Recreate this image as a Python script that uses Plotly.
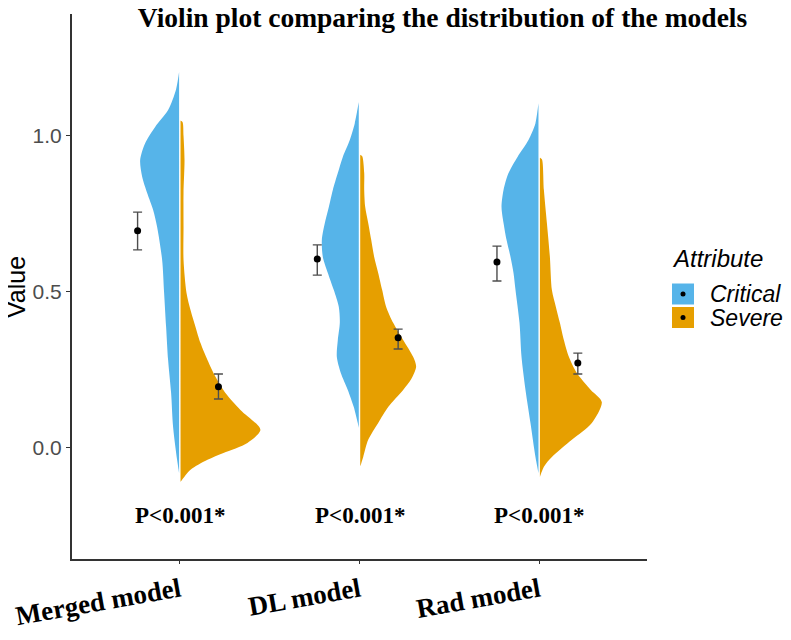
import plotly.graph_objects as go

# ---------------- data ----------------
models = ["Merged model", "DL model", "Rad model"]
attributes = ["Critical", "Severe"]
colors = {"Critical": "#56B4E9", "Severe": "#E69F00"}

# density profiles (value grid, relative half-width)
merged_crit_y = [-0.08, -0.038, 0.067, 0.176, 0.282, 0.388, 0.497, 0.603, 0.708, 0.763, 0.817, 0.869, 0.923, 0.977, 1.029, 1.083, 1.15, 1.205]
merged_crit_w = [0, 2, 6, 8, 11, 13, 15, 17, 22, 26, 32, 37, 39, 34, 24, 11, 3, 0]
merged_sev_y = [-0.109, -0.07, -0.038, -0.016, 0.016, 0.058, 0.122, 0.176, 0.228, 0.282, 0.336, 0.388, 0.442, 0.497, 0.603, 0.708, 0.817, 0.923, 1.0, 1.045, 1.05]
merged_sev_w = [0, 10, 27, 43, 67, 80, 60, 45, 35, 27, 20, 15, 10, 6, 3, 3, 3, 4, 3, 2, 0]

dl_crit_y = [0.065, 0.080, 0.131, 0.186, 0.240, 0.292, 0.346, 0.401, 0.452, 0.506, 0.561, 0.612, 0.667, 0.721, 0.772, 0.827, 0.881, 0.933, 0.987, 1.041, 1.109]
dl_crit_w = [0, 1, 5, 11, 18, 22, 21, 19, 20, 25, 31, 36, 37, 34, 30, 26, 21, 16, 9, 4, 0]
dl_sev_y = [-0.06, -0.029, 0.026, 0.080, 0.131, 0.186, 0.22, 0.26, 0.292, 0.346, 0.401, 0.452, 0.506, 0.561, 0.612, 0.667, 0.721, 0.772, 0.827, 0.881, 0.935, 0.94]
dl_sev_w = [0, 3, 8, 18, 28, 43, 51, 56, 53, 43, 33, 26, 22, 18, 14, 11, 8, 5, 4, 4, 2, 0]

rad_crit_y = [-0.08, -0.029, 0.080, 0.186, 0.292, 0.401, 0.506, 0.561, 0.612, 0.667, 0.721, 0.772, 0.827, 0.881, 0.933, 0.987, 1.041, 1.105]
rad_crit_w = [0, 3, 8, 13, 17, 19, 23, 25, 28, 32, 35, 37, 35, 30, 21, 10, 3, 0]
rad_sev_y = [-0.093, -0.06, -0.029, 0.026, 0.080, 0.147, 0.186, 0.240, 0.292, 0.346, 0.401, 0.452, 0.506, 0.612, 0.721, 0.827, 0.925, 0.93]
rad_sev_w = [0, 4, 12, 32, 52, 62, 51, 37, 29, 24, 20, 16, 12, 10, 7, 4, 2, 0]

crit_mean = [0.696, 0.606, 0.596]
crit_lo = [0.635, 0.554, 0.535]
crit_hi = [0.756, 0.651, 0.647]
sev_mean = [0.196, 0.353, 0.272]
sev_lo = [0.157, 0.317, 0.237]
sev_hi = [0.237, 0.381, 0.304]

p_labels = ["P<0.001*", "P<0.001*", "P<0.001*"]
y_ticks = [0.0, 0.5, 1.0]
y_ticktext = ["0.0", "0.5", "1.0"]

# ---------------- figure ----------------
W_SCALE = 1 / 180.0
GAP = 0.004
POINT_OFF = {"Critical": -0.235, "Severe": 0.215}

profiles = {
    ("Merged model", "Critical"): (merged_crit_y, merged_crit_w),
    ("Merged model", "Severe"): (merged_sev_y, merged_sev_w),
    ("DL model", "Critical"): (dl_crit_y, dl_crit_w),
    ("DL model", "Severe"): (dl_sev_y, dl_sev_w),
    ("Rad model", "Critical"): (rad_crit_y, rad_crit_w),
    ("Rad model", "Severe"): (rad_sev_y, rad_sev_w),
}

fig = go.Figure()
for i, m in enumerate(models):
    cx = i + 1
    for a in attributes:
        ys, ws = profiles[(m, a)]
        sign = -1 if a == "Critical" else 1
        xs = [cx + sign * (GAP + w * W_SCALE) for w in ws]
        xs = [cx + sign * GAP] + xs + [cx + sign * GAP]
        yy = [ys[0]] + list(ys) + [ys[-1]]
        fig.add_trace(go.Scatter(
            x=xs, y=yy, mode="lines", fill="toself",
            line=dict(width=0, color=colors[a], shape="spline", smoothing=0.8),
            fillcolor=colors[a], hoverinfo="skip", showlegend=False))

for a, mean, lo, hi in [("Critical", crit_mean, crit_lo, crit_hi),
                        ("Severe", sev_mean, sev_lo, sev_hi)]:
    fig.add_trace(go.Scatter(
        x=[i + 1 + POINT_OFF[a] for i in range(len(models))], y=mean,
        mode="markers", marker=dict(color="black", size=7),
        error_y=dict(type="data", symmetric=False,
                     array=[h - m for h, m in zip(hi, mean)],
                     arrayminus=[m - l for m, l in zip(mean, lo)],
                     color="#4d4d4d", thickness=1.4, width=4.5),
        showlegend=False, hoverinfo="skip"))

for i, p in enumerate(p_labels):
    fig.add_annotation(x=i + 1, y=-0.215, text="<b>" + p + "</b>", showarrow=False,
                       font=dict(family="Liberation Serif", size=23, color="black"),
                       xanchor="center", yanchor="middle")

# page geometry (the page body adds an 8 px offset)
OFF = 8
FW, FH = 791 - OFF, 640 - OFF
L, R, T, B = 72, 647, 14, 559
def px(xp):
    return (xp - L) / (R - L)
def py(yp):
    return (B - yp) / (B - T)

# axis title
fig.add_annotation(xref="paper", yref="paper", x=px(16), y=py(287), text="Value",
                   textangle=-90, showarrow=False,
                   font=dict(family="Liberation Sans", size=25, color="black"),
                   xanchor="center", yanchor="middle")

# manual legend
fig.add_annotation(xref="paper", yref="paper", x=px(670), y=py(259),
                   text="<i>Attribute</i>", showarrow=False, xanchor="left", yanchor="middle",
                   font=dict(family="Liberation Sans", size=24, color="black"))
for k, (a, yc) in enumerate([("Critical", 294), ("Severe", 317.5)]):
    fig.add_shape(type="rect", xref="paper", yref="paper",
                  x0=px(672), x1=px(694), y0=py(yc - 10.5), y1=py(yc + 10.5),
                  fillcolor=colors[a], line=dict(width=0))
    fig.add_shape(type="circle", xref="paper", yref="paper",
                  x0=px(680.5), x1=px(685.5), y0=py(yc - 2.5), y1=py(yc + 2.5),
                  fillcolor="black", line=dict(width=0))
    fig.add_annotation(xref="paper", yref="paper", x=px(708), y=py(yc),
                       text="<i>" + a + "</i>", showarrow=False, xanchor="left", yanchor="middle",
                       font=dict(family="Liberation Sans", size=23, color="black"))

fig.update_layout(
    width=FW, height=FH,
    margin=dict(l=L - OFF, r=FW - (R - OFF), t=T - OFF, b=FH - (B - OFF), autoexpand=False),
    paper_bgcolor="white", plot_bgcolor="white",
    showlegend=False,
    title=dict(text="<b>Violin plot comparing the distribution of the models</b>",
               x=((133 + 752) / 2 - OFF) / FW, xanchor="center",
               y=1 - (17 - OFF) / FH, yanchor="middle",
               font=dict(family="Liberation Serif", size=27.5, color="black")),
    xaxis=dict(range=[0.4, 3.6], tickvals=[1, 2, 3], ticktext=["<b>" + m + "</b>" for m in models],
               tickangle=-10, showgrid=False, zeroline=False, automargin=False,
               showline=True, linecolor="#333333", linewidth=2,
               ticks="outside", ticklen=3, tickcolor="#333333",
               tickfont=dict(family="Liberation Serif", size=27, color="black")),
    yaxis=dict(range=[-0.356, 1.391], tickvals=y_ticks, ticktext=y_ticktext,
               showgrid=False, zeroline=False, automargin=False,
               showline=True, linecolor="#333333", linewidth=2,
               ticks="outside", ticklen=4, tickcolor="#333333",
               tickfont=dict(family="Liberation Sans", size=21, color="#4d4d4d")),
)

fig.write_html("out.html")
